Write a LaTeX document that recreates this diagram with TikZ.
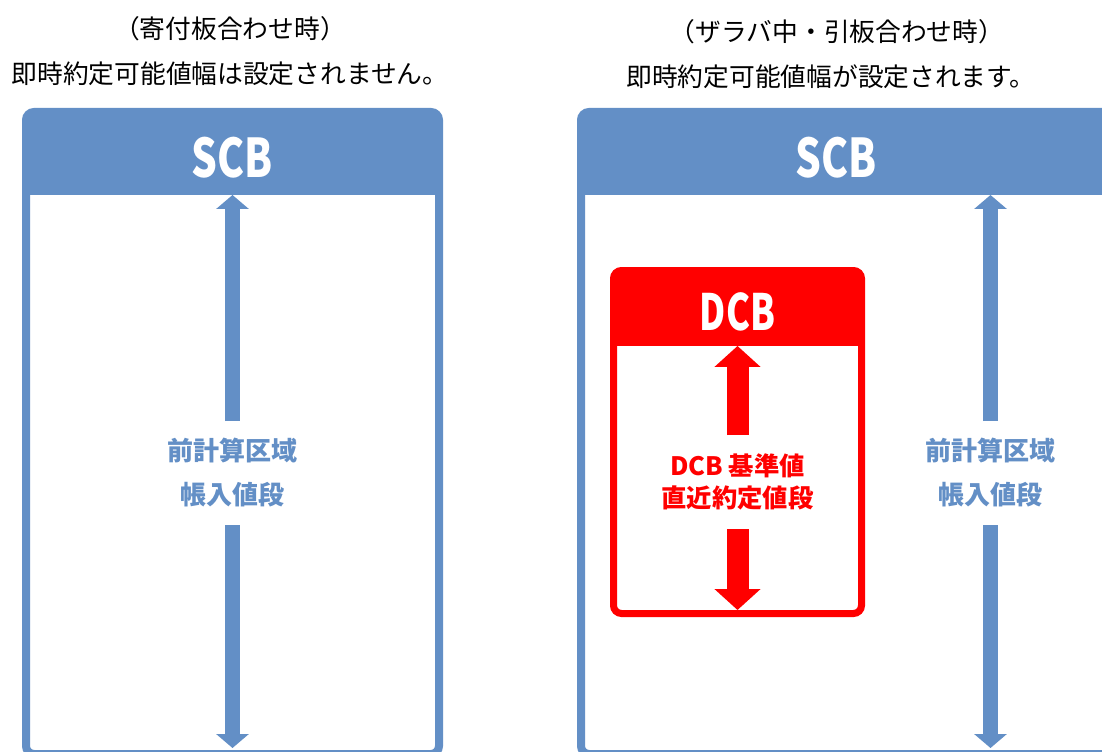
\documentclass[tikz,border=0pt]{standalone}
\usepackage{fontspec}
\usepackage{graphicx}
\setmainfont{Noto Sans CJK JP}
\usetikzlibrary{arrows.meta}
\definecolor{scbblue}{RGB}{99,143,198}
\definecolor{dcbred}{RGB}{255,0,0}
\begin{document}
\begin{tikzpicture}[x=0.75pt,y=-0.75pt,
  title/.style={font=\fontsize{19.3}{22}\selectfont, text=black, inner sep=0pt},
  framebg/.style={fill=white, inner sep=0pt, outer sep=0pt},
  headbox/.style={fill=#1, inner sep=0pt, outer sep=0pt},
  bigtag/.style={text=white, inner sep=0pt, font=\fontsize{40}{40}\selectfont\bfseries},
  blabel/.style={text=scbblue, align=center, inner sep=0pt, outer sep=0pt,
     font=\fontsize{19.5}{33}\selectfont\bfseries, minimum height=78pt},
  rlabel/.style={text=dcbred, align=center, inner sep=0pt, outer sep=0pt,
     font=\fontsize{19}{24}\selectfont\bfseries, minimum height=70.5pt},
  barr/.style={draw=scbblue, line width=11.25pt, -{Triangle[width=24pt,length=10.5pt]}},
  rarr/.style={draw=dcbred, line width=16.5pt, -{Triangle[width=33.75pt,length=15.75pt]}}
]
\useasboundingbox (0,0) rectangle (1102,752);
\clip (0,0) rectangle (1102,752);

% titles
\node[title] (lt1) at (230,29) {（寄付板合わせ時）};
\node[title] (lt2) at (230,74) {即時約定可能値幅は設定されません。};
\node[title] (rt1) at (837,32) {（ザラバ中・引板合わせ時）};
\node[title] (rt2) at (831,77) {即時約定可能値幅が設定されます。};

% ---------- left SCB box ----------
\node[framebg, minimum width=309.75pt, minimum height=481.5pt] (L) at (232.5,433) {};
\node[headbox=scbblue, minimum width=309.75pt, minimum height=62.25pt] (LH) at (232.5,153.5) {};
\draw[draw=scbblue, line width=6pt, rounded corners=6pt] (L.north west) rectangle (L.south east);
\node[bigtag] (LS) at (232.5,158) {\scalebox{0.76}[1]{SCB}};
\node[blabel] (LL) at (232.5,473) {前計算区域\\帳入値段};
\coordinate (Lbot) at (232.5,748);
\draw[barr] (LL.north) -- (LH.south);
\draw[barr] (LL.south) -- (Lbot);

% ---------- right SCB box ----------
\node[framebg, minimum width=404.25pt, minimum height=481.5pt] (R) at (850.5,433) {};
\node[headbox=scbblue, minimum width=404.25pt, minimum height=62.25pt] (RH) at (850.5,153.5) {};
\draw[draw=scbblue, line width=6pt, rounded corners=6pt] (R.north west) rectangle (R.south east);
\node[bigtag] (RS) at (836.5,158) {\scalebox{0.76}[1]{SCB}};
\node[blabel] (RL) at (990.5,473) {前計算区域\\帳入値段};
\coordinate (Rbot) at (990.5,748);
\coordinate (Rtop) at (990.5,195);
\draw[barr] (RL.north) -- (Rtop);
\draw[barr] (RL.south) -- (Rbot);

% ---------- DCB box ----------
\node[framebg, minimum width=186pt, minimum height=257.25pt] (D) at (737.5,442) {};
\node[headbox=dcbred, minimum width=186pt, minimum height=56.6pt] (DH) at (737.5,308.25) {};
\draw[draw=dcbred, line width=5.25pt, rounded corners=6pt] (D.north west) rectangle (D.south east);
\node[bigtag, font=\fontsize{37.5}{37.5}\selectfont\bfseries] (DS) at (737.5,312) {\scalebox{0.72}[1]{DCB}};
\node[rlabel] (DL) at (737.5,482) {DCB 基準値\\直近約定値段};
\coordinate (Dbot) at (737.5,610);
\draw[rarr] (DL.north) -- (DH.south);
\draw[rarr] (DL.south) -- (Dbot);
\end{tikzpicture}
\end{document}
